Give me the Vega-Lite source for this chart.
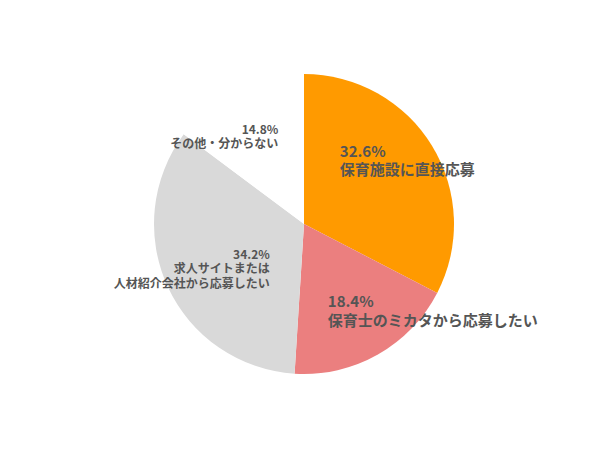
{
  "$schema": "https://vega.github.io/schema/vega-lite/v6.json",
  "width": 600,
  "height": 450,
  "autosize": {"type": "fit", "contains": "padding"},
  "padding": {"left": 8, "right": 0, "top": 0, "bottom": 2},
  "background": "white",
  "view": {"stroke": null},
  "data": {
    "values": [
      {"cat": "保育施設に直接応募", "pct": 32.6, "order": 1, "label": "32.6%\n保育施設に直接応募"},
      {"cat": "保育士のミカタから応募したい", "pct": 18.4, "order": 2, "label": "18.4%\n保育士のミカタから応募したい"},
      {"cat": "求人サイトまたは人材紹介会社から応募したい", "pct": 34.2, "order": 3, "label": "34.2%\n求人サイトまたは\n人材紹介会社から応募したい"},
      {"cat": "その他・分からない", "pct": 14.8, "order": 4, "label": "14.8%\nその他・分からない"}
    ]
  },
  "encoding": {
    "theta": {"field": "pct", "type": "quantitative", "stack": true},
    "order": {"field": "order", "type": "quantitative"}
  },
  "layer": [
    {
      "mark": {"type": "arc", "outerRadius": 150},
      "encoding": {
        "color": {
          "field": "cat",
          "type": "nominal",
          "scale": {
            "domain": ["保育施設に直接応募", "保育士のミカタから応募したい", "求人サイトまたは人材紹介会社から応募したい", "その他・分からない"],
            "range": ["#FF9A00", "#EB7F7F", "#D9D9D9", "#FFFFFF"]
          },
          "legend": null
        }
      }
    },
    {
      "mark": {"type": "text", "radius": 125, "align": "left", "baseline": "middle", "dx": -71, "dy": -7, "lineBreak": "\n", "lineHeight": 18, "fontSize": 15, "fontWeight": "bold", "font": "Noto Sans CJK JP", "color": "#555555"},
      "encoding": {"text": {"condition": {"test": "datum.order === 1", "field": "label"}, "value": ""}}
    },
    {
      "mark": {"type": "text", "radius": 97, "align": "left", "baseline": "middle", "dx": -24, "dy": -6, "lineBreak": "\n", "lineHeight": 19, "fontSize": 15, "fontWeight": "bold", "font": "Noto Sans CJK JP", "color": "#555555"},
      "encoding": {"text": {"condition": {"test": "datum.order === 2", "field": "label"}, "value": ""}}
    },
    {
      "mark": {"type": "text", "radius": 106, "align": "right", "baseline": "middle", "dx": 62, "dy": -14, "lineBreak": "\n", "lineHeight": 14.5, "fontSize": 12, "fontWeight": "bold", "font": "Noto Sans CJK JP", "color": "#555555"},
      "encoding": {"text": {"condition": {"test": "datum.order === 3", "field": "label"}, "value": ""}}
    },
    {
      "mark": {"type": "text", "radius": 99.6, "align": "right", "baseline": "middle", "dx": 19, "dy": -5, "lineBreak": "\n", "lineHeight": 14, "fontSize": 12, "fontWeight": "bold", "font": "Noto Sans CJK JP", "color": "#555555"},
      "encoding": {"text": {"condition": {"test": "datum.order === 4", "field": "label"}, "value": ""}}
    }
  ]
}
